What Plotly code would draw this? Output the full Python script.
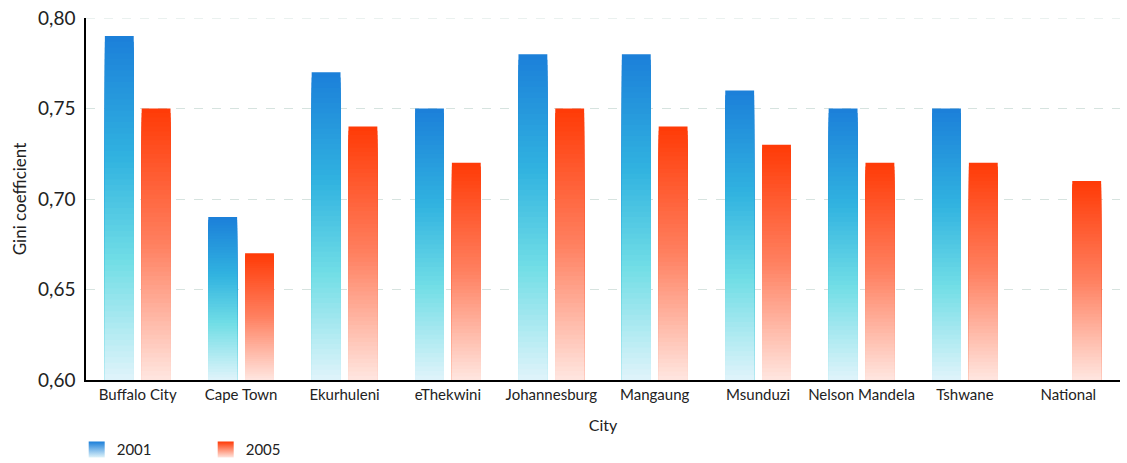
import plotly.graph_objects as go

cities = ["Buffalo City", "Cape Town", "Ekurhuleni", "eThekwini", "Johannesburg",
          "Mangaung", "Msunduzi", "Nelson Mandela", "Tshwane", "National"]
gini_2001 = [0.79, 0.69, 0.77, 0.75, 0.78, 0.78, 0.76, 0.75, 0.75, None]
gini_2005 = [0.75, 0.67, 0.74, 0.72, 0.75, 0.74, 0.73, 0.72, 0.72, 0.71]
y_ticks = [0.60, 0.65, 0.70, 0.75, 0.80]

AXIS_MIN = 0.60
AXIS_MAX = 0.80
N_LAYERS = 60

# gradient stops (position from bottom 0 -> top 1)
blue_stops = [(0.0, (224, 244, 250)), (0.35, (112, 221, 230)), (0.65, (48, 178, 224)), (1.0, (28, 127, 217))]
red_stops = [(0.0, (255, 230, 224)), (0.5, (255, 128, 96)), (1.0, (255, 58, 6))]


def interp(stops, t):
    for (p0, c0), (p1, c1) in zip(stops[:-1], stops[1:]):
        if p0 <= t <= p1:
            f = (t - p0) / (p1 - p0)
            c = [round(a + (b - a) * f) for a, b in zip(c0, c1)]
            return f"rgb({c[0]},{c[1]},{c[2]})"
    c = stops[-1][1]
    return f"rgb({c[0]},{c[1]},{c[2]})"


fig = go.Figure()

for name, vals, stops in [("2001", gini_2001, blue_stops), ("2005", gini_2005, red_stops)]:
    heights = [None if v is None else v - AXIS_MIN for v in vals]
    # overlaid layers in one offset group: tallest (top colour) first, shorter lighter layers on top
    for k in range(N_LAYERS):
        frac = (N_LAYERS - k) / N_LAYERS
        t = (N_LAYERS - k - 0.5) / N_LAYERS
        ys = [None if h is None else h * frac for h in heights]
        fig.add_trace(go.Bar(
            x=cities, y=ys, base=AXIS_MIN, offsetgroup=name, legendgroup=name,
            marker=dict(color=interp(stops, t), line=dict(width=0)),
            showlegend=False, hoverinfo="skip" if k else None, name=name))
    # legend entry with gradient swatch
    fig.add_trace(go.Scatter(
        x=[None], y=[None], mode="markers", name=name, legendgroup=name,
        marker=dict(symbol="square", size=18, color=interp(stops, 1.0),
                    gradient=dict(type="vertical", color=interp(stops, 0.0)),
                    line=dict(width=0)),
        showlegend=True))

# top gridline (at the range edge, which plotly does not draw itself)
fig.add_shape(type="line", xref="paper", x0=0, x1=1, yref="y", y0=AXIS_MAX, y1=AXIS_MAX,
              line=dict(color="#d6e3df", width=1, dash="dash"), layer="below")

font_family = "Lato, 'Noto Sans', sans-serif"

fig.update_layout(
    width=1127, height=463,
    margin=dict(l=86, r=7, t=18, b=83, autoexpand=False),
    paper_bgcolor="white", plot_bgcolor="white",
    barmode="group", bargap=0.288, bargroupgap=0.216,
    separators=", ",
    font=dict(family=font_family, color="#222222", size=14),
    showlegend=True,
    legend=dict(orientation="h", x=-0.009, xanchor="left", y=-0.193, yanchor="middle",
                entrywidth=84, font=dict(size=15), traceorder="normal", itemsizing="trace"),
)
fig.update_xaxes(
    title=dict(text="City", font=dict(size=16), standoff=18),
    showline=True, linecolor="black", linewidth=1.5, automargin=False,
    tickfont=dict(size=15), showgrid=False, ticks="")
fig.update_yaxes(
    title=dict(text="Gini coefficient", font=dict(size=17), standoff=7),
    range=[AXIS_MIN, AXIS_MAX], tickvals=y_ticks, tickformat=".2f",
    automargin=False,
    showline=True, linecolor="black", linewidth=1.5,
    showgrid=True, gridcolor="#d6e3df", griddash="dash", gridwidth=1,
    zeroline=False, tickfont=dict(size=19), ticks="", ticklabelstandoff=5)

fig.write_html("out.html", config={"displayModeBar": False},
               post_script="document.body.style.margin='0';")
